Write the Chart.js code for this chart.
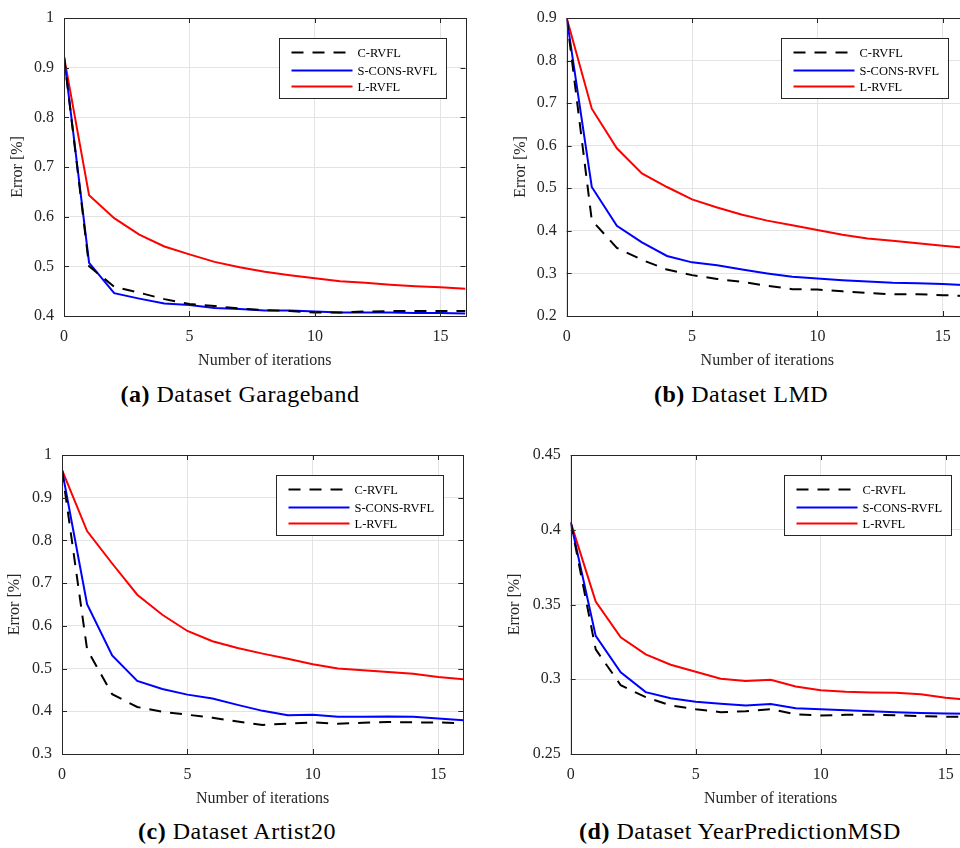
<!DOCTYPE html>
<html><head><meta charset="utf-8">
<script src="https://cdn.jsdelivr.net/npm/chart.js@4.4.0/dist/chart.umd.min.js"></script>
<style>
html,body{margin:0;padding:0;width:960px;height:848px;overflow:hidden;background:#fff;}
canvas{position:absolute;}
.cap{position:absolute;font-family:"Liberation Serif",serif;font-size:24px;letter-spacing:0.5px;line-height:26px;color:#000;white-space:nowrap;transform:translateX(-50%);}
</style></head><body>
<canvas id="ca"></canvas>
<canvas id="cb"></canvas>
<canvas id="cc"></canvas>
<canvas id="cd"></canvas>
<div class="cap" style="left:240px;top:381px"><b>(a)</b> Dataset Garageband</div>
<div class="cap" style="left:741px;top:381px"><b>(b)</b> Dataset LMD</div>
<div class="cap" style="left:237px;top:818px"><b>(c)</b> Dataset Artist20</div>
<div class="cap" style="left:740px;top:818px"><b>(d)</b> Dataset YearPredictionMSD</div>
<script>
const iterations = [0,1,2,3,4,5,6,7,8,9,10,11,12,13,14,15,16];
const seriesNames = ['C-RVFL','S-CONS-RVFL','L-RVFL'];
const xTicks = [0,5,10,15];

const garagebandC = [0.922,0.500,0.459,0.447,0.434,0.424,0.420,0.415,0.412,0.410,0.407,0.407,0.409,0.410,0.410,0.410,0.410];
const garagebandS = [0.922,0.507,0.446,0.435,0.425,0.422,0.416,0.414,0.411,0.411,0.409,0.407,0.407,0.407,0.406,0.406,0.405];
const garagebandL = [0.922,0.643,0.597,0.564,0.540,0.524,0.509,0.498,0.489,0.482,0.476,0.470,0.467,0.463,0.460,0.458,0.455];
const garagebandYTicks = [0.4,0.5,0.6,0.7,0.8,0.9,1];

const lmdC = [0.900,0.425,0.360,0.332,0.309,0.296,0.287,0.280,0.271,0.263,0.262,0.258,0.254,0.251,0.251,0.249,0.247];
const lmdS = [0.900,0.503,0.412,0.373,0.341,0.326,0.319,0.309,0.300,0.292,0.288,0.284,0.281,0.278,0.277,0.275,0.272];
const lmdL = [0.900,0.687,0.594,0.535,0.503,0.474,0.455,0.438,0.424,0.413,0.402,0.391,0.382,0.377,0.371,0.365,0.360];
const lmdYTicks = [0.2,0.3,0.4,0.5,0.6,0.7,0.8,0.9];

const artistC = [0.965,0.545,0.440,0.410,0.399,0.392,0.385,0.376,0.368,0.371,0.374,0.371,0.373,0.375,0.374,0.374,0.372];
const artistS = [0.965,0.651,0.531,0.471,0.452,0.439,0.430,0.415,0.401,0.391,0.392,0.387,0.387,0.388,0.387,0.383,0.379];
const artistL = [0.965,0.822,0.746,0.673,0.626,0.588,0.564,0.548,0.535,0.523,0.510,0.500,0.496,0.492,0.488,0.480,0.475];
const artistYTicks = [0.3,0.4,0.5,0.6,0.7,0.8,0.9,1];

const yearC = [0.405,0.320,0.296,0.288,0.2825,0.280,0.278,0.2786,0.280,0.2765,0.2758,0.2762,0.2762,0.276,0.2753,0.275,0.2747];
const yearS = [0.405,0.329,0.3047,0.2914,0.2873,0.285,0.2836,0.2825,0.2834,0.2806,0.280,0.2793,0.2786,0.278,0.2775,0.2771,0.277];
const yearL = [0.405,0.352,0.328,0.3166,0.3097,0.305,0.3003,0.2988,0.2997,0.2951,0.2927,0.2916,0.2912,0.291,0.2899,0.2877,0.2862];
const yearYTicks = [0.25,0.3,0.35,0.4,0.45];

const AX = '#262626';
const FONT = '"Liberation Serif", "Times New Roman", serif';
const DASH = [12, 9];

const framePlugin = {
  id: 'frame',
  afterDraw(chart) {
    const {ctx, chartArea: a, scales} = chart;
    ctx.save();
    ctx.strokeStyle = AX; ctx.lineWidth = 1;
    const tl = 5;
    ctx.beginPath();
    scales.x.ticks.forEach(t => {
      const px = Math.round(scales.x.getPixelForValue(t.value)) + 0.5;
      ctx.moveTo(px, a.bottom); ctx.lineTo(px, a.bottom - tl);
      ctx.moveTo(px, a.top); ctx.lineTo(px, a.top + tl);
    });
    scales.y.ticks.forEach(t => {
      const py = Math.round(scales.y.getPixelForValue(t.value)) + 0.5;
      ctx.moveTo(a.left, py); ctx.lineTo(a.left + tl, py);
      ctx.moveTo(a.right, py); ctx.lineTo(a.right - tl, py);
    });
    ctx.stroke();
    ctx.strokeRect(Math.round(a.left) + 0.5, Math.round(a.top) + 0.5, Math.round(a.right - a.left), Math.round(a.bottom - a.top));
    const bw = 167, bh = 60;
    const bx = Math.round(a.right - 20 - bw) + 0.5, by = Math.round(a.top + 20) + 0.5;
    ctx.fillStyle = '#fff';
    ctx.fillRect(bx, by, bw, bh);
    ctx.strokeStyle = AX; ctx.lineWidth = 1;
    ctx.strokeRect(bx, by, bw, bh);
    const rows = [14, 32, 48];
    chart.data.datasets.forEach((ds, i) => {
      const yy = by + rows[i];
      ctx.beginPath();
      ctx.strokeStyle = ds.borderColor; ctx.lineWidth = ds.borderWidth;
      ctx.setLineDash(ds.borderDash || []);
      ctx.moveTo(bx + 12, yy); ctx.lineTo(bx + 73, yy);
      ctx.stroke();
      ctx.setLineDash([]);
      ctx.fillStyle = '#000';
      ctx.font = '12.5px ' + FONT;
      ctx.textBaseline = 'middle'; ctx.textAlign = 'left';
      ctx.fillText(ds.label, bx + 78, yy + 1);
    });
    ctx.restore();
  }
};

function makePanel(id, p, cSeries, sSeries, lSeries, yTicks) {
  const cv = document.getElementById(id);
  cv.width = p.W; cv.height = p.H;
  cv.style.left = p.cl + 'px'; cv.style.top = p.ct + 'px';
  const pts = arr => iterations.map((x, i) => ({x, y: arr[i]}));
  new Chart(cv, {
    type: 'line',
    data: {
      datasets: [
        {label: seriesNames[0], data: pts(cSeries), borderColor: '#000000', borderWidth: 2, borderDash: DASH, pointRadius: 0, tension: 0, fill: false},
        {label: seriesNames[1], data: pts(sSeries), borderColor: '#0000ff', borderWidth: 2, pointRadius: 0, tension: 0, fill: false},
        {label: seriesNames[2], data: pts(lSeries), borderColor: '#ff0000', borderWidth: 2, pointRadius: 0, tension: 0, fill: false}
      ]
    },
    options: {
      responsive: false, animation: false, devicePixelRatio: 1,
      layout: {padding: {left: 0, top: p.padTop, right: p.padRight, bottom: 0}},
      plugins: {legend: {display: false}, tooltip: {enabled: false}},
      scales: {
        x: {
          type: 'linear', min: 0, max: 16,
          afterBuildTicks: s => { s.ticks = xTicks.map(v => ({value: v})); },
          afterFit: s => { s.height = 64; },
          grid: {color: '#e3e3e3', drawTicks: false},
          border: {display: false},
          ticks: {padding: 12.5, color: AX, font: {family: FONT, size: 16, lineHeight: 1}, maxRotation: 0, autoSkip: false, callback: v => String(v)},
          title: {display: true, text: 'Number of iterations', color: AX, font: {family: FONT, size: 16, lineHeight: 1.2}, padding: {top: 0, bottom: 9.5}}
        },
        y: {
          type: 'linear', min: yTicks[0], max: yTicks[yTicks.length - 1],
          afterBuildTicks: s => { s.ticks = yTicks.map(v => ({value: v})); },
          afterFit: s => { s.width = p.yW; },
          grid: {color: '#e3e3e3', drawTicks: false},
          border: {display: false},
          ticks: {padding: 10, color: AX, font: {family: FONT, size: 16, lineHeight: 1}, autoSkip: false, callback: v => String(Math.round(v * 100) / 100)},
          title: {display: true, text: 'Error [%]', color: AX, font: {family: FONT, size: 16, lineHeight: 1.2}, padding: {top: p.tPad, bottom: 0}}
        }
      }
    },
    plugins: [framePlugin]
  });
}

makePanel('ca', {cl: 0, ct: 0, W: 480, H: 380, padTop: 9, padRight: 14.5, yW: 64, tPad: 8}, garagebandC, garagebandS, garagebandL, garagebandYTicks);
makePanel('cb', {cl: 503, ct: 0, W: 480, H: 380, padTop: 9, padRight: 15.2, yW: 63.7, tPad: 8.2}, lmdC, lmdS, lmdL, lmdYTicks);
makePanel('cc', {cl: 0, ct: 437, W: 480, H: 381, padTop: 9.7, padRight: 16.7, yW: 62, tPad: 5.5}, artistC, artistS, artistL, artistYTicks);
makePanel('cd', {cl: 499, ct: 437, W: 480, H: 381, padTop: 9.7, padRight: 8.3, yW: 71.7, tPad: 6.5}, yearC, yearS, yearL, yearYTicks);
</script>
</body></html>
